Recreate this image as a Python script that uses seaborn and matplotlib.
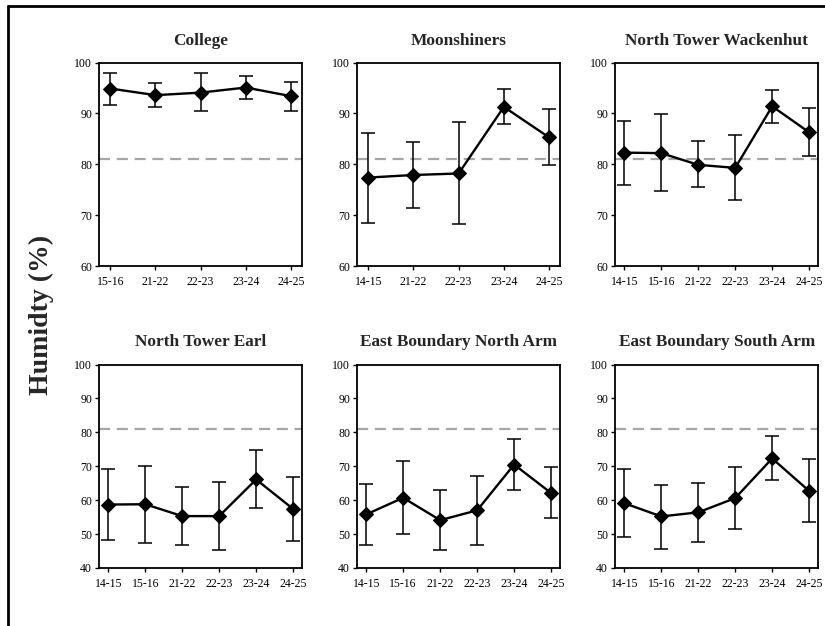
import numpy as np
import pandas as pd
import matplotlib
matplotlib.use('Agg')
import matplotlib.pyplot as plt
from matplotlib.lines import Line2D
import seaborn as sns

# Panel names and seasons
sites = ['College', 'Moonshiners', 'North Tower Wackenhut',
         'North Tower Earl', 'East Boundary North Arm', 'East Boundary South Arm']
seasons_college = ['15-16', '21-22', '22-23', '23-24', '24-25']
seasons_moon = ['14-15', '21-22', '22-23', '23-24', '24-25']
seasons_full = ['14-15', '15-16', '21-22', '22-23', '23-24', '24-25']

# mean humidity, and lower / upper ends of error bars
college_mean = [94.9, 93.6, 94.1, 95.1, 93.4]
college_lo = [91.7, 91.2, 90.5, 92.8, 90.4]
college_hi = [98.0, 96.0, 97.9, 97.4, 96.2]

moon_mean = [77.4, 77.9, 78.2, 91.3, 85.3]
moon_lo = [68.5, 71.4, 68.2, 87.9, 79.8]
moon_hi = [86.2, 84.4, 88.3, 94.9, 90.9]

wack_mean = [82.3, 82.2, 79.9, 79.3, 91.4, 86.3]
wack_lo = [76.0, 74.7, 75.5, 73.0, 88.1, 81.6]
wack_hi = [88.6, 89.8, 84.6, 85.7, 94.7, 91.0]

earl_mean = [58.7, 58.8, 55.3, 55.3, 66.1, 57.4]
earl_lo = [48.2, 47.4, 46.8, 45.4, 57.6, 48.0]
earl_hi = [69.2, 70.2, 63.9, 65.3, 74.8, 66.7]

north_mean = [55.8, 60.7, 54.1, 57.0, 70.5, 62.1]
north_lo = [46.9, 49.9, 45.2, 46.9, 63.1, 54.6]
north_hi = [64.9, 71.4, 63.1, 67.1, 77.9, 69.7]

south_mean = [59.1, 55.2, 56.4, 60.6, 72.3, 62.7]
south_lo = [49.1, 45.7, 47.8, 51.5, 65.8, 53.6]
south_hi = [69.3, 64.6, 65.0, 69.9, 79.0, 72.0]

threshold = 81

panels = [
    (seasons_college, college_mean, college_lo, college_hi, (60, 100)),
    (seasons_moon, moon_mean, moon_lo, moon_hi, (60, 100)),
    (seasons_full, wack_mean, wack_lo, wack_hi, (60, 100)),
    (seasons_full, earl_mean, earl_lo, earl_hi, (40, 100)),
    (seasons_full, north_mean, north_lo, north_hi, (40, 100)),
    (seasons_full, south_mean, south_lo, south_hi, (40, 100)),
]

sns.set_theme(style='ticks')
plt.rcParams['font.family'] = ['Liberation Serif', 'DejaVu Serif']

fig = plt.figure(figsize=(8.25, 6.26), dpi=100)

lefts = [0.120, 0.4327, 0.7455]
bottoms = [0.575, 0.0927]
w, h = 0.2465, 0.325

for i, (site, (seasons, mean, lo, hi, ylim)) in enumerate(zip(sites, panels)):
    ax = fig.add_axes([lefts[i % 3], bottoms[i // 3], w, h])
    df = pd.DataFrame({'season': seasons, 'mean': mean, 'lo': lo, 'hi': hi})
    x = np.arange(len(df))

    ax.axhline(threshold, color='#a6a6a6', lw=1.6, ls=(0, (5, 3)), zorder=1)
    ax.errorbar(x, df['mean'], yerr=[df['mean'] - df['lo'], df['hi'] - df['mean']],
                fmt='none', ecolor='black', elinewidth=1.1, capsize=4.8,
                capthick=1.1, zorder=2)
    sns.lineplot(x=x, y=df['mean'], ax=ax, color='black', lw=1.7,
                 marker='D', markersize=7, markeredgecolor='black', zorder=3)

    ax.set_xticks(x)
    ax.set_xticklabels(df['season'])
    ax.set_xlim(-0.25, len(df) - 0.75)
    ax.set_ylim(*ylim)
    ax.set_yticks(np.arange(ylim[0], 101, 10))
    ax.set_xlabel('')
    ax.set_ylabel('')
    ax.tick_params(axis='both', labelsize=8.5, length=3, width=1, pad=2, colors='black')
    ax.tick_params(axis='x', pad=4)
    for sp in ax.spines.values():
        sp.set_linewidth(1.3)
        sp.set_color('black')
    ax.set_title(site, fontsize=12.4, fontweight='bold', pad=13)

fig.text(0.05, 0.497, 'Humidty (%)', rotation=90, fontsize=20, fontweight='bold',
         ha='center', va='center')

# partial frame around the figure
fig.add_artist(Line2D([0.0097, 0.0097], [0, 0.991], color='black', lw=2))
fig.add_artist(Line2D([0.0097, 1.0], [0.991, 0.991], color='black', lw=2))

fig.savefig('out.png', dpi=100)
